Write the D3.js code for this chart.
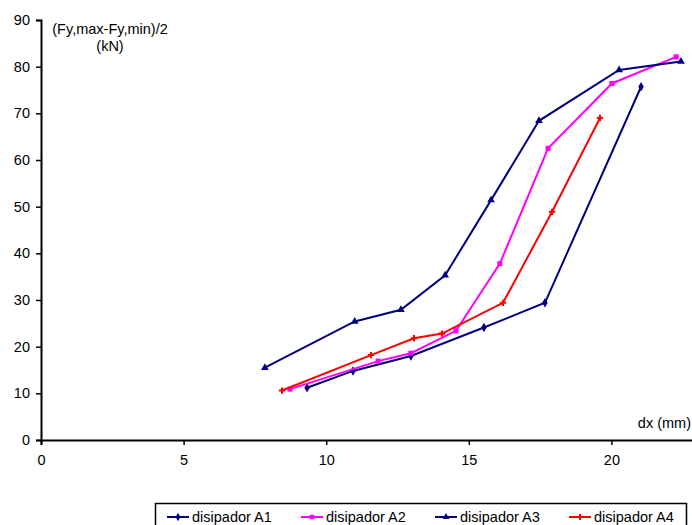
<!DOCTYPE html>
<html>
<head>
<meta charset="utf-8">
<title>disipador</title>
<style>
body { margin: 0; background: #fff; }
text { font-family: "Liberation Sans", Arial, sans-serif; }
</style>
</head>
<body>
<script src="https://cdn.jsdelivr.net/npm/d3@7"></script>
<script>
var width = 692, height = 525;
var fs = 14.5;

// datos
var seriesNames = ["disipador A1", "disipador A2", "disipador A3", "disipador A4"];
var xA1 = [9.33, 10.94, 12.97, 15.53, 17.67, 21.04];
var yA1 = [11.2, 14.8, 18.0, 24.1, 29.4, 75.7];
var xA2 = [8.73, 11.82, 12.97, 14.55, 16.09, 17.78, 20.02, 22.27];
var yA2 = [10.9, 16.9, 18.6, 23.4, 37.8, 62.5, 76.4, 82.1];
var xA3 = [7.85, 11.0, 12.62, 14.17, 15.78, 17.46, 20.27, 22.44];
var yA3 = [15.5, 25.4, 27.9, 35.3, 51.4, 68.4, 79.3, 81.1];
var xA4 = [8.45, 11.57, 13.08, 14.06, 16.2, 17.92, 19.6];
var yA4 = [10.6, 18.2, 21.8, 22.8, 29.4, 48.9, 69.0];
var xTicks = [0, 5, 10, 15, 20];
var yTicks = [0, 10, 20, 30, 40, 50, 60, 70, 80, 90];

var colors = ["#000080", "#ff00ff", "#000080", "#ff0000"];
var symbols = [d3.symbolDiamond, d3.symbolSquare, d3.symbolTriangle, d3.symbolCross];

var series = [[xA1, yA1], [xA2, yA2], [xA3, yA3], [xA4, yA4]].map(function(s, i) {
	return { name: seriesNames[i], pts: s[0].map(function(x, j) { return [x, s[1][j]]; }) };
});

var svg = d3.select("body").append("svg")
	.attr("width", width)
	.attr("height", height);

// el eje x sigue hasta 25, fuera de la ventana
var x = d3.scaleLinear().domain([0, 25]).range([41, 41 + 25 * 28.52]);
var y = d3.scaleLinear().domain([0, 90]).range([440, 20]);

// ejes
var xAxis = svg.append("g")
	.attr("transform", "translate(0,440)")
	.call(d3.axisBottom(x).tickValues(xTicks).tickSize(5).tickPadding(10).tickFormat(d3.format("d")));
var yAxis = svg.append("g")
	.attr("transform", "translate(41,0)")
	.call(d3.axisLeft(y).tickValues(yTicks).tickSize(5).tickPadding(6).tickFormat(d3.format("d")));
[xAxis, yAxis].forEach(function(a) {
	a.select(".domain").attr("stroke", "#000").attr("stroke-width", 2);
	a.selectAll(".tick line").attr("stroke", "#000").attr("stroke-width", 1.5);
	a.selectAll(".tick text").attr("font-size", fs).attr("fill", "#000")
		.attr("font-family", "Liberation Sans, Arial, sans-serif");
});

svg.append("text").attr("x", 110).attr("y", 34).attr("text-anchor", "middle")
	.attr("font-size", fs).text("(Fy,max-Fy,min)/2");
svg.append("text").attr("x", 110).attr("y", 51).attr("text-anchor", "middle")
	.attr("font-size", fs).text("(kN)");
svg.append("text").attr("x", 691).attr("y", 428).attr("text-anchor", "end")
	.attr("font-size", fs).text("dx (mm)");

// lineas
var line = d3.line()
	.x(function(d) { return x(d[0]); })
	.y(function(d) { return y(d[1]); });

var g = svg.selectAll("g.serie")
	.data(series)
	.enter()
	.append("g")
	.attr("class", "serie");
g.append("path")
	.attr("fill", "none")
	.attr("stroke", function(d, i) { return colors[i]; })
	.attr("stroke-width", 2)
	.attr("d", function(d) { return line(d.pts); });
g.each(function(d, i) {
	d3.select(this).selectAll("path.m")
		.data(d.pts)
		.enter()
		.append("path")
		.attr("class", "m")
		.attr("transform", function(p) { return "translate(" + x(p[0]) + "," + y(p[1]) + ")"; })
		.attr("fill", colors[i])
		.attr("d", d3.symbol().type(symbols[i]).size(i == 3 ? 22 : 26));
});

// leyenda
var leg = svg.append("g");
leg.append("rect")
	.attr("x", 155.5).attr("y", 503.5)
	.attr("width", 531).attr("height", 30)
	.attr("fill", "#fff").attr("stroke", "#000").attr("stroke-width", 1.5);
var items = leg.selectAll("g.item")
	.data(seriesNames)
	.enter()
	.append("g")
	.attr("transform", function(d, i) { return "translate(" + (167 + i * 134) + ",517)"; });
items.append("line")
	.attr("x1", 0).attr("x2", 22)
	.attr("stroke", function(d, i) { return colors[i]; })
	.attr("stroke-width", 2);
items.append("path")
	.attr("transform", "translate(11,0)")
	.attr("fill", function(d, i) { return colors[i]; })
	.attr("d", function(d, i) { return d3.symbol().type(symbols[i]).size(20)(); });
items.append("text")
	.attr("x", 25).attr("y", 5)
	.attr("font-size", fs)
	.text(function(d) { return d; });
</script>
</body>
</html>
